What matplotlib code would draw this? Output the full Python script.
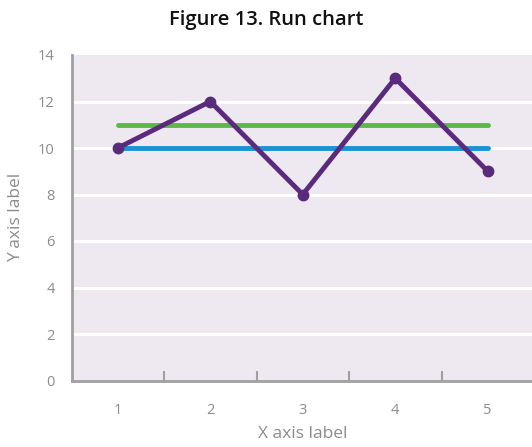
import matplotlib
matplotlib.use("Agg")
import matplotlib.pyplot as plt
from matplotlib.ticker import FixedLocator, NullFormatter

categories = [1, 2, 3, 4, 5]
values = [10, 12, 8, 13, 9]
mean_line = [10, 10, 10, 10, 10]
target_line = [11, 11, 11, 11, 11]
y_ticks = [0, 2, 4, 6, 8, 10, 12, 14]

W, H = 532, 447
fig = plt.figure(figsize=(W / 100, H / 100), dpi=100)
plt.rcParams['font.family'] = ['Open Sans', 'DejaVu Sans']

left, right = 71.5 / W, 534 / W
bottom, top = 1 - 380.5 / H, 1 - 55 / H
ax = fig.add_axes([left, bottom, right - left, top - bottom])
ax.set_facecolor('#EEE9F0')

ax.set_xlim(0.5, 5.5)
ax.set_ylim(0, 14)

for y in y_ticks[1:-1]:
    ax.axhline(y, color='white', lw=2.2, zorder=1)

ax.plot(categories, target_line, color='#5DB84A', lw=3.5, solid_capstyle='round', zorder=2)
ax.plot(categories, mean_line, color='#1A93D3', lw=3.5, solid_capstyle='round', zorder=3)
ax.plot(categories, values, color='#5A2A7C', lw=3.5, marker='o', markersize=7.5,
        solid_joinstyle='miter', zorder=4)

gray = '#8C8C8C'
for s in ['top', 'right']:
    ax.spines[s].set_visible(False)
for s in ['left', 'bottom']:
    ax.spines[s].set_color('#A0A0A0')
    ax.spines[s].set_linewidth(2)

ax.set_yticks(y_ticks)
ax.set_yticklabels([str(v) for v in y_ticks])
ax.tick_params(axis='y', length=0, pad=12, labelsize=10.5, labelcolor=gray)

ax.xaxis.set_major_locator(FixedLocator([1.5, 2.5, 3.5, 4.5]))
ax.xaxis.set_major_formatter(NullFormatter())
ax.xaxis.set_minor_locator(FixedLocator(categories))
ax.set_xticklabels([str(c) for c in categories], minor=True)
ax.tick_params(axis='x', which='major', direction='in', length=7, width=1.5, color='#A0A0A0')
ax.tick_params(axis='x', which='minor', length=0, pad=16, labelsize=10.5, labelcolor=gray)

ax.set_ylabel('Y axis label', color=gray, fontsize=12.5, labelpad=10)
ax.set_xlabel('X axis label', color=gray, fontsize=12.5, labelpad=6)

fig.text(0.5, 1 - 20 / H, 'Figure 13. Run chart', ha='center', va='center',
         fontsize=14.5, fontweight='semibold', color='#111111')

fig.savefig('out.png', dpi=100)
